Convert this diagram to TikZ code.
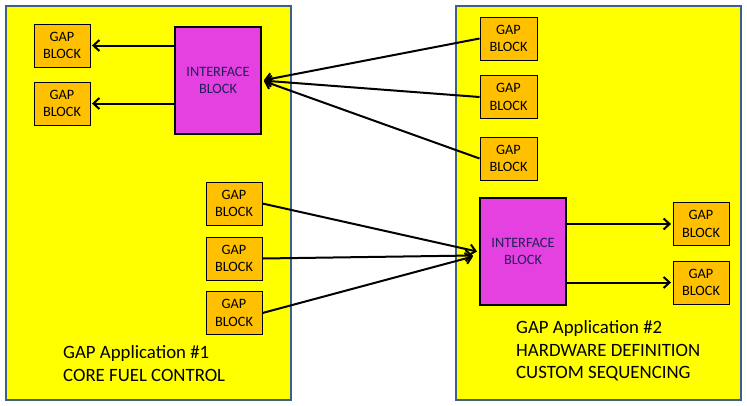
\documentclass[tikz,border=0pt]{standalone}
\usepackage{fontspec}
\setmainfont{Carlito}
\usetikzlibrary{arrows.meta}
\definecolor{appyellow}{HTML}{FFFF00}
\definecolor{gaporange}{HTML}{FFC000}
\definecolor{ifmagenta}{HTML}{E540E0}
\definecolor{appborder}{HTML}{3C5F8F}
\definecolor{iftext}{HTML}{22205A}
\tikzset{
  appbox/.style={draw=appborder, fill=appyellow, line width=2pt},
  gapblock/.style={draw=black, fill=gaporange, line width=0.9pt, minimum width=56pt, minimum height=43pt, inner sep=0pt, align=center, font=\fontsize{14.3pt}{17.8pt}\selectfont},
  ifblock/.style={draw=black, fill=ifmagenta, line width=2pt, minimum width=86pt, minimum height=107pt, inner sep=0pt, align=center, text=iftext, font=\fontsize{14.3pt}{17.5pt}\selectfont},
  arr/.style={line width=2pt, -{Straight Barb[length=6pt,width=11pt,line width=2pt]}},
  apptext/.style={align=left, inner sep=0pt, font=\fontsize{18.8pt}{22.7pt}\selectfont}
}
\begin{document}
\begin{tikzpicture}[x=1pt,y=-1pt]
\useasboundingbox (0,0) rectangle (747,405);
% containers
\path[appbox] (6,6) rectangle (291,400);
\path[appbox] (456,6) rectangle (741,400);
% left application
\node[gapblock] (L1) at (62,45.5) {GAP\\BLOCK};
\node[gapblock] (L2) at (62,103.5) {GAP\\BLOCK};
\node[ifblock] (IF1) at (218,80.5) {INTERFACE\\BLOCK};
\node[gapblock] (L3) at (234,203.5) {GAP\\BLOCK};
\node[gapblock] (L4) at (234,258.5) {GAP\\BLOCK};
\node[gapblock] (L5) at (234,313) {GAP\\BLOCK};
\node[apptext, anchor=west] (T1) at (63,363.5) {GAP Application \#1\\CORE FUEL CONTROL};
% right application
\node[gapblock, minimum width=57pt] (R1) at (508.5,38.5) {GAP\\BLOCK};
\node[gapblock, minimum width=57pt] (R2) at (508.5,97) {GAP\\BLOCK};
\node[gapblock, minimum width=57pt] (R3) at (508.5,158.5) {GAP\\BLOCK};
\node[ifblock] (IF2) at (523,251.5) {INTERFACE\\BLOCK};
\node[gapblock] (R4) at (701,224) {GAP\\BLOCK};
\node[gapblock] (R5) at (701,282.5) {GAP\\BLOCK};
\node[apptext, anchor=west] (T2) at (516,351) {GAP Application \#2\\HARDWARE DEFINITION\\CUSTOM SEQUENCING};
% connectors
\draw[arr, shorten >=1.5pt] (IF1.west |- L1.east) -- (L1.east);
\draw[arr, shorten >=1.5pt] (IF1.west |- L2.east) -- (L2.east);
\draw[arr, shorten >=2pt] (R1.west) -- (IF1.east);
\draw[arr, shorten >=2pt] (R2.west) -- (IF1.east);
\draw[arr, shorten >=2pt] (R3.west) -- (IF1.east);
\draw[arr] (L3.east) -- ([xshift=-2pt]IF2.west);
\draw[arr] (L4.east) -- ([xshift=-6pt,yshift=-4pt]IF2.west);
\draw[arr] (L5.east) -- ([xshift=-6pt,yshift=-5pt]IF2.west);
\draw[arr, shorten >=1.5pt] (IF2.east |- R4.west) -- (R4.west);
\draw[arr, shorten >=1.5pt] (IF2.east |- R5.west) -- (R5.west);
\end{tikzpicture}
\end{document}
